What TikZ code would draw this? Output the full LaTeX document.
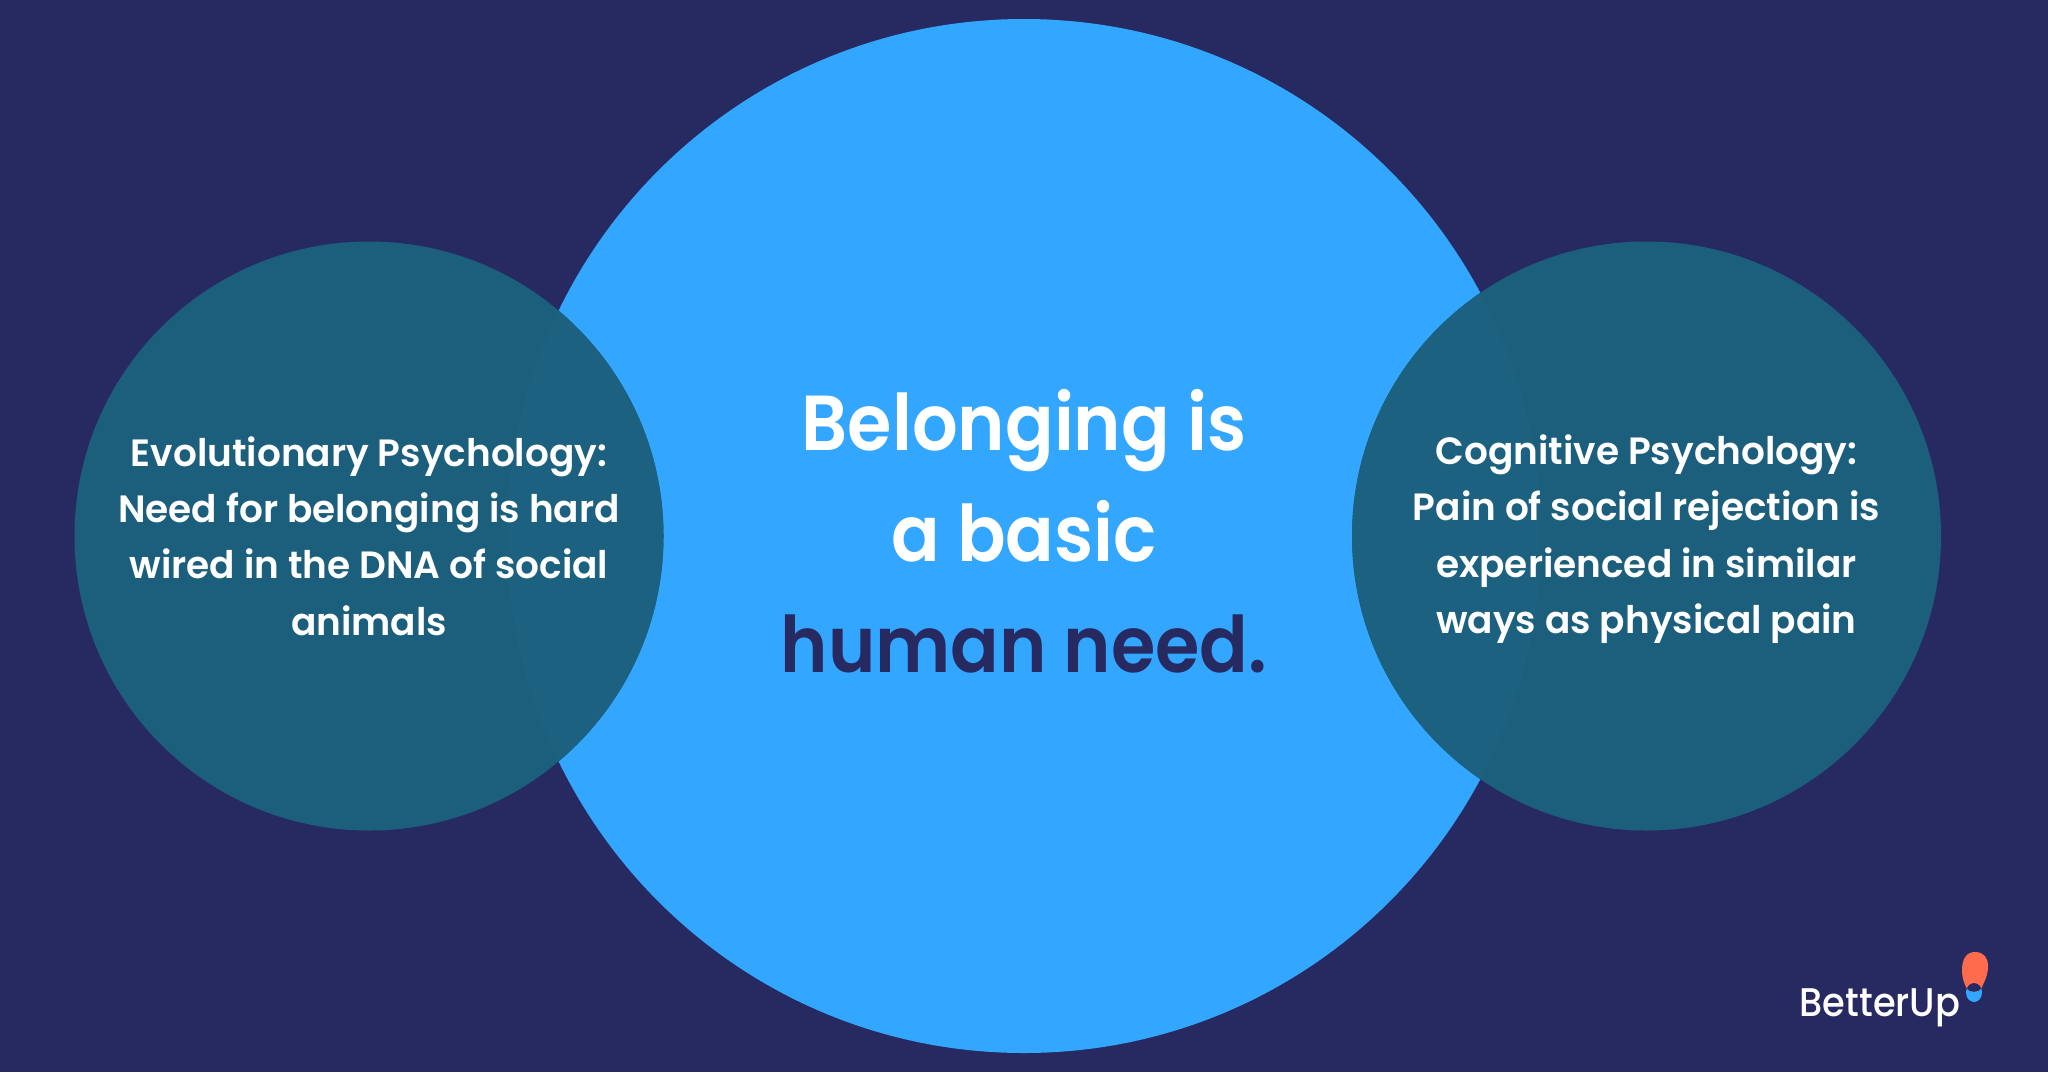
\documentclass[tikz,border=0pt]{standalone}
\usepackage{fontspec}
\setmainfont{Poppins}
\newfontfamily\semibig[FakeStretch=0.92]{Poppins SemiBold}
\newfontfamily\semi[FakeStretch=0.985]{Poppins SemiBold}
\newfontfamily\medi[FakeStretch=0.92]{Poppins Medium}
\definecolor{navy}{HTML}{272A61}
\definecolor{sky}{HTML}{33A6FF}
\definecolor{teal1}{HTML}{1C5F7D}
\definecolor{teal2}{HTML}{1C6180}
\definecolor{coral}{HTML}{FF6B4D}
\tikzset{bigtext/.style={font=\semibig\fontsize{39}{39}\selectfont,text=white,anchor=base},
sidetext/.style={font=\semi\fontsize{19}{19}\selectfont,text=white,anchor=base}}
\begin{document}
\begin{tikzpicture}[x=0.5pt,y=-0.5pt]
\useasboundingbox (0,0) rectangle (2048,1072);
\fill[navy] (0,0) rectangle (2048,1072);
\fill[sky] (1024,536) circle[radius=258.5pt];
\fill[teal1] (369,536) circle[radius=147.25pt];
\fill[teal1] (1646.5,536) circle[radius=147.25pt];
\begin{scope}
\clip (1024,536) circle[radius=258.5pt];
\fill[teal2] (369,536) circle[radius=147.25pt];
\fill[teal2] (1646.5,536) circle[radius=147.25pt];
\end{scope}
\node[bigtext] (l1) at (1024,450) {Belonging is};
\node[bigtext] (l2) at (1024,561) {a basic};
\node[bigtext,text=navy] (l3) at (1024,672) {human need.};
\node[sidetext] (a1) at (369,466) {Evolutionary Psychology:};
\node[sidetext] (a2) at (369,522) {Need for belonging is hard};
\node[sidetext] (a3) at (369,578) {wired in the DNA of social};
\node[sidetext] (a4) at (369,635) {animals};
\node[sidetext] (b1) at (1646.5,464) {Cognitive Psychology:};
\node[sidetext] (b2) at (1646.5,520) {Pain of social rejection is};
\node[sidetext] (b3) at (1646.5,577) {experienced in similar};
\node[sidetext] (b4) at (1646.5,633) {ways as physical pain};
\node[font=\medi\fontsize{20}{20}\selectfont,text=white,anchor=base] (logo) at (1880,1016) {BetterUp};
\fill[sky] (1974,992.5) ellipse[x radius=4pt,y radius=4.75pt];
\def\droppath{(1962,970) .. controls (1962,958) and (1967,952) .. (1975,952) .. controls (1984,952) and (1988,958) .. (1988,966) .. controls (1988,976) and (1984,982) .. (1981.5,988) .. controls (1979,993) and (1969,993) .. (1966.5,988) .. controls (1964,983) and (1962,978) .. (1962,970) -- cycle}
\fill[coral] \droppath;
\begin{scope}
\clip \droppath;
\fill[navy] (1974,992.5) ellipse[x radius=4pt,y radius=4.75pt];
\end{scope}
\end{tikzpicture}
\end{document}
